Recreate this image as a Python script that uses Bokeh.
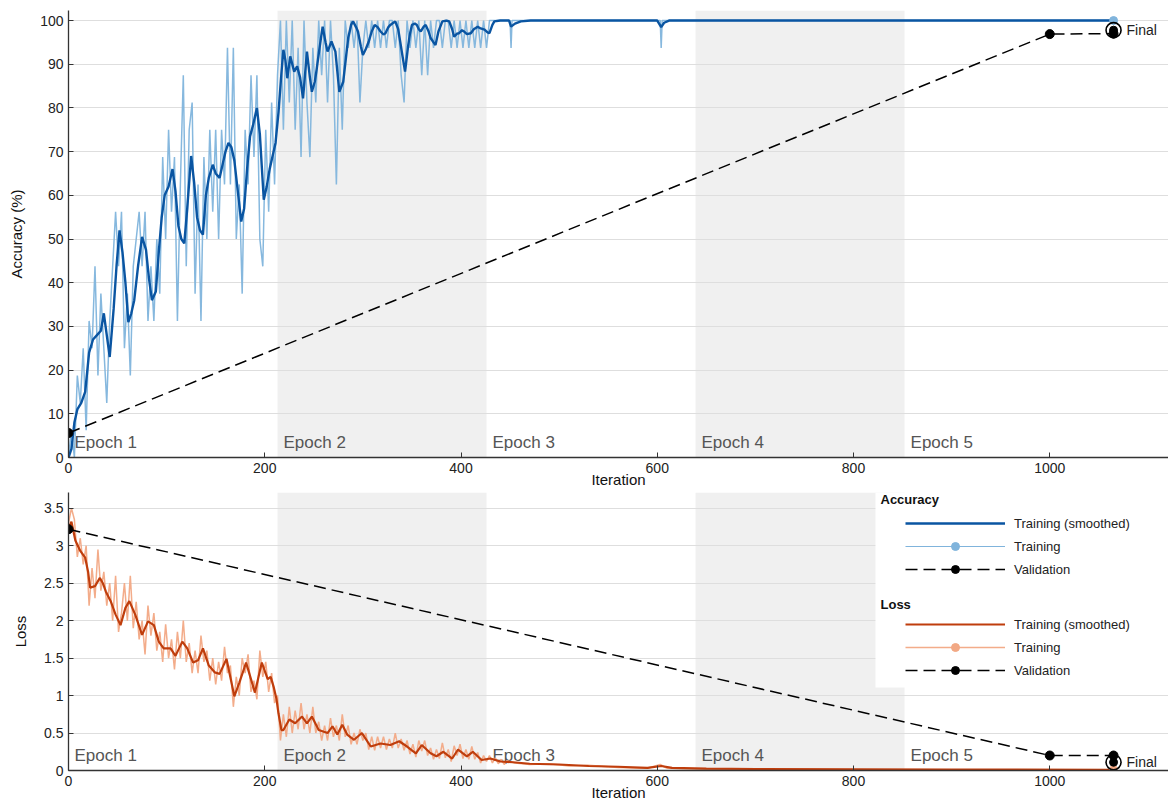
from bokeh.plotting import figure
from bokeh.layouts import column
from bokeh.models import (Range1d, Legend, LegendItem, Label, BoxAnnotation,
                          NumeralTickFormatter, FixedTicker)
from bokeh.core.properties import value
from bokeh.embed import file_html
from bokeh.resources import INLINE

# ---------------- data ----------------
ITERS_PER_EPOCH = 213
N_EPOCHS = 5
FINAL_ITER = 1065
epoch_labels = ["Epoch 1", "Epoch 2", "Epoch 3", "Epoch 4", "Epoch 5"]
x_ticks = [0, 200, 400, 600, 800, 1000]
acc_ticks = [0, 10, 20, 30, 40, 50, 60, 70, 80, 90, 100]
loss_ticks = [0, 0.5, 1, 1.5, 2, 2.5, 3, 3.5]

acc_smooth_iter = [
    0, 3, 6, 9, 13, 17, 21, 25, 29, 33,
    36, 39, 42, 46, 49, 52, 55, 58, 61, 64,
    67, 71, 75, 79, 82, 85, 89, 92, 95, 98,
    102, 106, 109, 112, 115, 118, 121, 125, 128, 131,
    134, 137, 140, 143, 147, 150, 154, 157, 160, 163,
    166, 169, 173, 176, 179, 182, 185, 188, 192, 195,
    199, 202, 205, 208, 211, 214, 217, 219, 221, 223,
    226, 230, 233, 236, 239, 243, 246, 248, 251, 253,
    256, 259, 262, 264, 268, 272, 276, 280, 283, 285,
    288, 290, 293, 295, 298, 300, 303, 306, 309, 312,
    315, 318, 321, 323, 326, 328, 331, 333, 336, 338,
    341, 343, 346, 348, 350, 353, 355, 357, 359, 362,
    364, 367, 369, 372, 374, 377, 381, 385, 388, 391,
    393, 396, 398, 401, 403, 406, 410, 413, 417, 420,
    424, 427, 429, 432, 434, 440, 449, 451, 455, 461,
    471, 600, 604, 607, 612, 1065]
acc_smooth = [
    0, 2, 8, 11, 12.5, 15, 24, 27, 28, 29,
    33, 28, 23, 34, 44, 52, 47, 40, 31, 33,
    36, 44, 50.5, 47.5, 41, 36, 38, 47, 55, 60,
    62, 66, 61, 53, 50, 49, 57, 69, 63, 55,
    52, 51, 60, 64, 67, 65, 64, 67, 70, 72,
    71, 68, 60, 54, 57, 66, 73.5, 76, 80, 74,
    59, 62, 66, 69, 72, 79, 88, 93.3, 91, 86.8,
    91.8, 88.3, 89.5, 87, 82.2, 92.9, 87, 83.7, 86, 89,
    94, 98.6, 95, 92.9, 95.2, 92.9, 83.7, 86, 92, 96,
    99, 99.8, 98.5, 97.5, 94, 92.1, 93.5, 95.2, 97.5, 99,
    98.5, 97.5, 96.8, 97.1, 98.5, 99, 99.5, 99.8, 98, 95.2,
    91, 88.3, 94, 97, 99, 99.3, 99, 98, 97.5, 98.6,
    99, 97.5, 96, 95, 94.4, 97.5, 99.8, 100, 99.8, 98,
    96.3, 97, 97.1, 97.8, 97.5, 96.9, 97.1, 98, 98.6, 98.2,
    97.9, 97.3, 97.1, 99, 99.8, 100, 100, 98.6, 99.3, 99.8,
    100, 100, 98.5, 99.5, 100, 100]

# raw training accuracy, read every 3 iterations for 0..447, then sparse tail
acc_raw_dense = [
    0, 6.25, 0, 18.75, 12.5, 25, 6.25, 31.25, 25, 43.75,
    18.75, 37.5, 25, 12.5, 31.25, 43.75, 56.25, 43.75, 56.25, 25,
    37.5, 18.75, 43.75, 50, 56.25, 43.75, 56.25, 31.25, 43.75, 31.25,
    50, 37.5, 68.75, 50, 75, 56.25, 68.75, 31.25, 62.5, 87.5,
    43.75, 75, 81.25, 37.5, 62.5, 31.25, 68.75, 50, 75, 56.25,
    75, 50, 75, 62.5, 93.75, 62.5, 93.75, 50, 62.5, 37.5,
    75, 62.5, 87.5, 68.75, 87.5, 50, 43.75, 75, 56.25, 81.25,
    62.5, 87.5, 100, 75, 100, 81.25, 100, 75, 93.75, 68.75,
    100, 81.25, 68.75, 93.75, 81.25, 100, 87.5, 100, 81.25, 100,
    87.5, 62.5, 93.75, 75, 100, 93.75, 100, 93.75, 100, 81.25,
    93.75, 100, 93.75, 100, 93.75, 100, 93.75, 100, 93.75, 100,
    100, 93.75, 100, 87.5, 81.25, 100, 93.75, 100, 93.75, 100,
    87.5, 100, 87.5, 100, 93.75, 100, 100, 93.75, 100, 100,
    93.75, 100, 93.75, 100, 93.75, 100, 93.75, 100, 93.75, 100,
    93.75, 100, 93.75, 100, 100, 100, 100, 100, 100, 100]
acc_raw_tail_iter = [450, 451, 452, 603, 604, 605, 1065]
acc_raw_tail = [100, 93.75, 100, 100, 93.75, 100, 100]

loss_smooth_iter = [
    0, 3, 7, 12, 17, 20, 22, 27, 32, 35,
    38, 43, 48, 53, 58, 62, 68, 75, 81, 87,
    92, 97, 104, 109, 116, 121, 127, 132, 137, 143,
    149, 154, 161, 169, 174, 181, 190, 197, 203, 206,
    209, 212, 214, 217, 219, 225, 231, 238, 243, 248,
    255, 264, 269, 274, 279, 284, 291, 299, 308, 318,
    328, 337, 345, 354, 360, 369, 375, 382, 391, 397,
    406, 412, 421, 430, 440, 453, 470, 500, 530, 560,
    590, 604, 615, 650, 700, 800, 900, 1065]
loss_smooth = [
    3.23, 3.32, 3.07, 2.93, 2.84, 2.65, 2.44, 2.46, 2.57, 2.5,
    2.39, 2.26, 2.08, 1.94, 2.17, 2.26, 2.08, 1.81, 1.99, 1.94,
    1.72, 1.63, 1.63, 1.53, 1.72, 1.63, 1.44, 1.47, 1.63, 1.4,
    1.31, 1.29, 1.49, 0.99, 1.17, 1.44, 1.04, 1.44, 1.22, 1.25,
    1.12, 0.95, 0.76, 0.54, 0.54, 0.68, 0.63, 0.72, 0.63, 0.72,
    0.54, 0.5, 0.59, 0.48, 0.61, 0.48, 0.41, 0.5, 0.32, 0.36,
    0.34, 0.39, 0.32, 0.23, 0.34, 0.23, 0.19, 0.25, 0.16, 0.28,
    0.19, 0.25, 0.14, 0.16, 0.12, 0.11, 0.09, 0.08, 0.06, 0.05,
    0.035, 0.06, 0.035, 0.025, 0.02, 0.015, 0.012, 0.01]

loss_raw_dense = [
    3.3, 3.5, 3.35, 2.85, 3.1, 2.75, 3.0, 2.2, 2.7, 2.3,
    2.95, 2.4, 2.65, 2.2, 2.5, 2.0, 2.6, 1.85, 2.1, 2.5,
    2.0, 2.6, 1.9, 2.25, 1.75, 2.0, 1.55, 2.2, 1.8, 2.1,
    1.6, 1.85, 1.45, 1.95, 1.5, 1.75, 1.35, 1.85, 1.5, 2.0,
    1.45, 1.7, 1.3, 1.6, 1.3, 1.8, 1.45, 1.6, 1.2, 1.5,
    1.15, 1.45, 1.2, 1.65, 1.3, 1.4, 0.85, 1.25, 1.0, 1.5,
    1.3, 1.55, 1.05, 1.2, 0.95, 1.6, 1.25, 1.45, 1.05, 1.3,
    0.9, 1.0, 0.4, 0.75, 0.45, 0.85, 0.5, 0.8, 0.55, 0.9,
    0.55, 0.75, 0.5, 0.85, 0.5, 0.65, 0.4, 0.6, 0.4, 0.7,
    0.45, 0.6, 0.4, 0.75, 0.45, 0.6, 0.35, 0.5, 0.35, 0.55,
    0.4, 0.5, 0.28, 0.45, 0.27, 0.45, 0.3, 0.45, 0.28, 0.42,
    0.3, 0.5, 0.3, 0.42, 0.27, 0.4, 0.22, 0.35, 0.18, 0.4,
    0.26, 0.4, 0.2, 0.3, 0.15, 0.28, 0.16, 0.37, 0.17, 0.28,
    0.12, 0.33, 0.2, 0.35, 0.16, 0.28, 0.15, 0.32, 0.15, 0.24,
    0.1, 0.2, 0.12, 0.2, 0.1, 0.17, 0.09, 0.15, 0.08, 0.13]
loss_raw_tail_iter = [455, 470, 490, 510, 530, 560, 590, 603, 610, 650, 700, 800, 900, 1065]
loss_raw_tail = [0.1, 0.08, 0.09, 0.06, 0.07, 0.04, 0.03, 0.08, 0.03, 0.02, 0.02, 0.01, 0.01, 0.01]

val_iter = [0, 1000, 1065]
val_acc = [5.6, 96.9, 97.0]
val_loss = [3.22, 0.2, 0.2]
final_acc = 97.8
final_loss = 0.11

dense_iter = list(range(0, 450, 3))
assert len(dense_iter) == len(acc_raw_dense) == len(loss_raw_dense)
assert len(acc_smooth_iter) == len(acc_smooth)
assert len(loss_smooth_iter) == len(loss_smooth)
acc_raw_iter = dense_iter + acc_raw_tail_iter
acc_raw = acc_raw_dense + acc_raw_tail
loss_raw_iter = dense_iter + loss_raw_tail_iter
loss_raw = loss_raw_dense + loss_raw_tail

# ---------------- style ----------------
FONT = "Liberation Sans"
ACC_S = "#0a55a2"
ACC_R = "#80b4dc"
LOSS_S = "#bf3d0c"
LOSS_R = "#f2a884"
BAND = "#f0f0f0"
GRID = "#dedede"
DASH = "12 6"
FRAME_W = 1100
X_END = 1121


def make_fig(y_end, frame_h, ylabel, yticks, min_top):
    p = figure(frame_width=FRAME_W, frame_height=frame_h,
               x_range=Range1d(0, X_END), y_range=Range1d(0, y_end),
               output_backend="svg", toolbar_location=None,
               min_border_left=68, min_border_right=0,
               min_border_top=min_top, min_border_bottom=0)
    p.outline_line_color = None
    p.background_fill_color = "white"
    p.border_fill_color = "white"
    p.xgrid.visible = False
    p.ygrid.grid_line_color = GRID
    p.ygrid.grid_line_width = 1
    p.xaxis.ticker = FixedTicker(ticks=x_ticks)
    p.yaxis.ticker = FixedTicker(ticks=yticks)
    for ax in (p.xaxis[0], p.yaxis[0]):
        ax.major_tick_in = 5
        ax.major_tick_out = 0
        ax.minor_tick_line_color = None
        ax.axis_line_color = "#333333"
        ax.axis_line_width = 1.3
        ax.major_tick_line_color = "#333333"
        ax.major_label_text_font = FONT
        ax.major_label_text_font_size = "14px"
        ax.major_label_text_color = "#222222"
        ax.axis_label_text_font = FONT
        ax.axis_label_text_font_size = "15px"
        ax.axis_label_text_font_style = "normal"
        ax.axis_label_text_color = "#111111"
        ax.major_label_standoff = 5
    p.xaxis.axis_label = "Iteration"
    p.xaxis.axis_label_standoff = -5
    p.yaxis.axis_label = ylabel
    p.yaxis.axis_label_standoff = 12
    p.yaxis.formatter = NumeralTickFormatter(format="0.[0]")

    band_left = [e * ITERS_PER_EPOCH for e in range(N_EPOCHS) if e % 2 == 1]
    band_right = [(e + 1) * ITERS_PER_EPOCH for e in range(N_EPOCHS) if e % 2 == 1]
    p.quad(left=band_left, right=band_right, bottom=0, top=y_end,
           fill_color=BAND, line_color=None, level="image")
    epoch_start = [e * ITERS_PER_EPOCH for e in range(N_EPOCHS)]
    p.text(x=epoch_start, y=[0] * N_EPOCHS, text=epoch_labels,
           x_offset=6, y_offset=-6, text_baseline="bottom",
           text_font=value(FONT), text_font_size="17px", text_color="#555555")
    return p


# ---------------- accuracy ----------------
p1 = make_fig(102.3, 447, "Accuracy (%)", acc_ticks, 10)
p1.line(acc_raw_iter, acc_raw, line_color=ACC_R, line_width=1.5, line_alpha=0.95)
p1.line(acc_smooth_iter, acc_smooth, line_color=ACC_S, line_width=2.4)
p1.line(val_iter, val_acc, line_color="black", line_width=1.5, line_dash=DASH)
p1.scatter(val_iter, val_acc, size=9, fill_color="black", line_color="black")
p1.scatter([FINAL_ITER], [acc_raw[-1]], size=8, fill_color=ACC_R, line_color=ACC_R)
p1.scatter([FINAL_ITER], [final_acc], size=15, fill_color=None, line_color="black", line_width=1.6)
p1.scatter([FINAL_ITER], [final_acc], size=8, fill_color="black", line_color="black")
p1.text(x=[FINAL_ITER], y=[final_acc], text=["Final"], x_offset=13, text_baseline="middle",
        text_font=value(FONT), text_font_size="14px", text_color="#222222")

# ---------------- loss ----------------
FH = 278
p2 = make_fig(3.71, FH, "Loss", loss_ticks, 2)
l_raw = p2.line(loss_raw_iter, loss_raw, line_color=LOSS_R, line_width=1.5, line_alpha=0.95)
l_sm = p2.line(loss_smooth_iter, loss_smooth, line_color=LOSS_S, line_width=2.2)
lv = p2.line(val_iter, val_loss, line_color="black", line_width=1.5, line_dash=DASH)
lvd = p2.scatter(val_iter, val_loss, size=9, fill_color="black", line_color="black")
ltd = p2.scatter([FINAL_ITER], [loss_raw[-1]], size=8, fill_color=LOSS_R, line_color=LOSS_R)
p2.scatter([FINAL_ITER], [final_loss], size=15, fill_color=None, line_color="black", line_width=1.6)
p2.scatter([FINAL_ITER], [final_loss], size=8, fill_color="black", line_color="black")
p2.text(x=[FINAL_ITER], y=[final_loss], text=["Final"], x_offset=13, text_baseline="middle",
        text_font=value(FONT), text_font_size="14px", text_color="#222222")

# hidden copies of the accuracy series, used only for the legend glyphs
a_s = p2.line(acc_smooth_iter, acc_smooth, line_color=ACC_S, line_width=2.4, visible=False)
a_r = p2.line(acc_raw_iter, acc_raw, line_color=ACC_R, line_width=1.2, visible=False)
a_rd = p2.scatter([FINAL_ITER], [acc_raw[-1]], size=8, fill_color=ACC_R, line_color=ACC_R, visible=False)
a_v = p2.line(val_iter, val_acc, line_color="black", line_width=1.5, line_dash=DASH, visible=False)
a_vd = p2.scatter(val_iter, val_acc, size=9, fill_color="black", line_color="black", visible=False)

p2.add_layout(BoxAnnotation(left=807, left_units="screen", bottom=FH - 195, bottom_units="screen",
                            fill_color="white", fill_alpha=1.0, line_color=None))

LEG_H = 74


def make_legend(items, top_from_frame_top):
    return Legend(items=items, location=(833, FH - top_from_frame_top - LEG_H),
                  glyph_width=100, glyph_height=20, label_height=20, spacing=3,
                  padding=4, margin=0, label_standoff=9,
                  background_fill_alpha=0, border_line_alpha=0,
                  label_text_font=FONT, label_text_font_size="13px",
                  label_text_color="#222222")


leg_acc = make_legend([
    LegendItem(label="Training (smoothed)", renderers=[a_s]),
    LegendItem(label="Training", renderers=[a_r, a_rd]),
    LegendItem(label="Validation", renderers=[a_v, a_vd]),
], 17)
leg_loss = make_legend([
    LegendItem(label="Training (smoothed)", renderers=[l_sm]),
    LegendItem(label="Training", renderers=[l_raw, ltd]),
    LegendItem(label="Validation", renderers=[lv, lvd]),
], 118)
p2.add_layout(leg_acc)
p2.add_layout(leg_loss)
for txt, ytop in (("Accuracy", 7), ("Loss", 112)):
    p2.add_layout(Label(x=812, y=FH - ytop, x_units="screen", y_units="screen", text=txt,
                        text_font=FONT, text_font_style="bold", text_font_size="13px",
                        text_color="#111111", text_baseline="middle"))

layout = column(p1, p2, spacing=0)
open("out.html", "w").write(file_html(layout, INLINE))
